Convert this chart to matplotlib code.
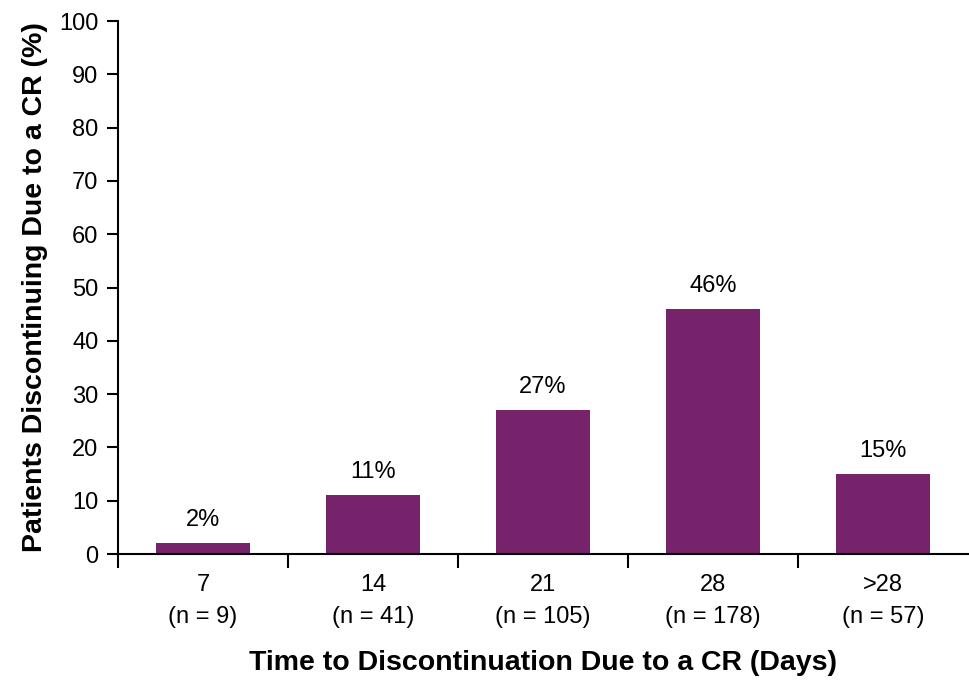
import matplotlib.pyplot as plt

plt.rcParams['font.family'] = ['Liberation Sans', 'DejaVu Sans']

days = ['7', '14', '21', '28', '>28']
counts = [9, 41, 105, 178, 57]
percents = [2, 11, 27, 46, 15]

bar_color = '#76236C'

fig = plt.figure(figsize=(9.69, 6.9), dpi=100)
ax = fig.add_axes([0.1218, 0.197, 0.877, 0.7725])

x = list(range(len(days)))
ax.bar(x, percents, width=0.55, color=bar_color)

for xi, p in zip(x, percents):
    ax.text(xi, p + 2.3, f'{p}%', ha='center', va='bottom', fontsize=17)

ax.set_xlim(-0.5, len(days) - 0.5)
ax.set_ylim(0, 100)
ax.set_yticks(range(0, 101, 10))
ax.tick_params(axis='y', labelsize=17, length=8, width=1.5, direction='out', pad=6)

# category labels under each bar, ticks at the category boundaries
ax.set_xticks(x)
ax.set_xticklabels([f'{d}\n(n = {n})' for d, n in zip(days, counts)], fontsize=17,
                   linespacing=1.6)
ax.tick_params(axis='x', which='major', length=0, pad=14)
ax.set_xticks([i - 0.5 for i in x], minor=True)
ax.tick_params(axis='x', which='minor', length=10, width=1.5, direction='out')

ax.spines['top'].set_visible(False)
ax.spines['right'].set_visible(False)
ax.spines['left'].set_linewidth(1.5)
ax.spines['bottom'].set_linewidth(1.5)

ax.set_ylabel('Patients Discontinuing Due to a CR (%)', fontsize=20.5, fontweight='bold', labelpad=8)
ax.set_xlabel('Time to Discontinuation Due to a CR (Days)', fontsize=20.5, fontweight='bold', labelpad=16)

fig.savefig('out.png', dpi=100)
